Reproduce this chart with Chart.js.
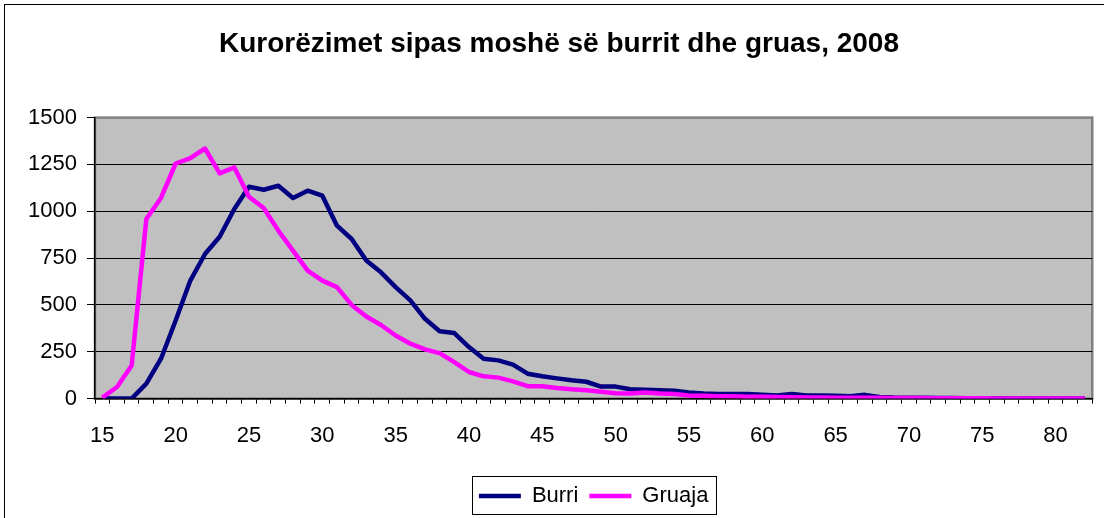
<!DOCTYPE html>
<html>
<head>
<meta charset="utf-8">
<script src="https://cdn.jsdelivr.net/npm/chart.js@4.4.1/dist/chart.umd.min.js"></script>
<style>
    html, body { margin: 0; padding: 0; background: #fff; overflow: hidden; }
    #wrap { position: relative; width: 1104px; height: 518px; overflow: hidden; }
    #frame { position: absolute; left: 4px; top: 4px; width: 1200px; height: 600px; border: 1px solid #000; pointer-events: none; }
    canvas { position: absolute; left: 0; top: 0; }
</style>
</head>
<body>
<div id="wrap">
    <canvas id="LineGraph" width="1104" height="518"></canvas>
    <div id="frame"></div>
</div>
<script>
const ctx = document.getElementById('LineGraph');

// ages 15..82
const ages = [15, 16, 17, 18, 19, 20, 21, 22, 23, 24, 25, 26, 27, 28, 29, 30, 31, 32, 33, 34,
    35, 36, 37, 38, 39, 40, 41, 42, 43, 44, 45, 46, 47, 48, 49, 50, 51, 52, 53, 54,
    55, 56, 57, 58, 59, 60, 61, 62, 63, 64, 65, 66, 67, 68, 69, 70, 71, 72, 73, 74,
    75, 76, 77, 78, 79, 80, 81, 82];

const burri = [0, 0, 0, 80, 213, 417, 630, 772, 864, 1012, 1131, 1115, 1136, 1071, 1110, 1083, 923, 852, 737, 674,
    595, 524, 426, 360, 350, 275, 213, 204, 181, 133, 119, 108, 98, 90, 64, 64, 50, 47, 44, 42,
    33, 27, 25, 24, 24, 21, 17, 25, 17, 16, 15, 12, 20, 9, 6, 5, 4, 3, 3, 2,
    2, 2, 1, 1, 1, 1, 0, 0];

const gruaja = [5, 62, 177, 959, 1071, 1255, 1284, 1335, 1202, 1234, 1078, 1017, 897, 790, 683, 630, 595, 500, 438, 393,
    337, 293, 263, 243, 195, 142, 119, 112, 92, 66, 66, 57, 50, 44, 37, 29, 27, 32, 27, 24,
    17, 15, 13, 12, 10, 10, 8, 7, 6, 6, 5, 5, 4, 4, 3, 3, 3, 2, 2, 2,
    2, 1, 1, 1, 1, 1, 1, 1];

const yTicks = [0, 250, 500, 750, 1000, 1250, 1500];

const fontFamily = '"Liberation Sans", Arial, sans-serif';

// grey plot area with its darker frame
const plotArea = {
    id: 'plotArea',
    beforeDraw(chart) {
        const a = chart.chartArea;
        const c = chart.ctx;
        c.save();
        c.fillStyle = '#C0C0C0';
        c.fillRect(a.left, a.top, a.right - a.left, a.bottom - a.top);
        c.strokeStyle = '#808080';
        c.lineWidth = 2.5;
        c.strokeRect(a.left, a.top, a.right - a.left, a.bottom - a.top);
        c.restore();
    }
};

// centre the legend under the plot, push it down and draw the box round it
const legendBox = {
    id: 'legendBox',
    afterUpdate(chart) {
        const lg = chart.legend;
        const a = chart.chartArea;
        const dx = (a.left + a.right) / 2 - (lg.left + lg.right) / 2;
        const dy = 6;
        lg.left += dx;
        lg.right += dx;
        lg.top += dy;
        lg.bottom += dy;
        lg.adjustHitBoxes();
    },
    afterDraw(chart) {
        const lg = chart.legend;
        const pad = lg.options.labels.padding;
        const rowW = lg.lineWidths[0];
        const startX = (lg.left + pad + lg.right - rowW) / 2;
        const fontSize = lg.options.labels.font.size;
        const itemTop = lg.top + pad;
        const c = chart.ctx;
        const x1 = Math.round(startX - 7) + 0.5;
        const x2 = Math.round(startX + rowW - pad + 8) + 0.5;
        const y1 = Math.round(itemTop - 9) + 0.5;
        const y2 = Math.round(itemTop + fontSize + 7) + 0.5;
        c.save();
        c.strokeStyle = '#000';
        c.lineWidth = 1;
        c.strokeRect(x1, y1, x2 - x1, y2 - y1);
        c.restore();
    }
};

const data = {
    labels: ages,
    datasets: [{
        label: 'Burri',
        data: burri,
        borderColor: '#000080',
        backgroundColor: '#000080',
        borderWidth: 4.5,
        pointRadius: 0,
        tension: 0,
        borderJoinStyle: 'round',
        order: 1
    },
    {
        label: 'Gruaja',
        data: gruaja,
        borderColor: '#FF00FF',
        backgroundColor: '#FF00FF',
        borderWidth: 4.5,
        pointRadius: 0,
        tension: 0,
        borderJoinStyle: 'round',
        order: 0
    }]
};

new Chart(ctx, {
    type: 'line',
    data: data,
    plugins: [plotArea, legendBox],
    options: {
        responsive: false,
        animation: false,
        devicePixelRatio: 1,
        layout: {
            padding: { left: 24, right: 10, top: 8, bottom: 7 }
        },
        scales: {
            x: {
                type: 'category',
                offset: true,
                grid: {
                    offset: true,
                    drawOnChartArea: false,
                    drawTicks: true,
                    tickLength: 5,
                    tickColor: '#000'
                },
                border: { color: '#000', width: 1.5 },
                ticks: {
                    autoSkip: false,
                    maxRotation: 0,
                    minRotation: 0,
                    padding: 19,
                    color: '#000',
                    font: { family: fontFamily, size: 22 },
                    callback: function (value) {
                        const age = this.getLabelForValue(value);
                        return age % 5 === 0 ? String(age) : '';
                    }
                }
            },
            y: {
                min: 0,
                max: 1500,
                afterBuildTicks: (scale) => {
                    scale.ticks = yTicks.map(v => ({ value: v }));
                },
                afterFit: (scale) => {
                    scale.width = 71;
                },
                grid: {
                    color: (c) => c.tick && c.tick.value === 1500 ? '#808080' : '#000',
                    lineWidth: 1,
                    tickLength: 8,
                    tickColor: '#000'
                },
                border: { color: '#000', width: 1.5 },
                ticks: {
                    padding: 10,
                    color: '#000',
                    font: { family: fontFamily, size: 22 },
                    callback: (value) => String(value)
                }
            }
        },
        plugins: {
            title: {
                display: true,
                text: 'Kurorëzimet sipas moshë së burrit dhe gruas, 2008',
                color: '#000',
                font: { family: fontFamily, size: 28, weight: 'bold' },
                padding: { top: 19, bottom: 57 }
            },
            legend: {
                display: true,
                position: 'bottom',
                labels: {
                    usePointStyle: true,
                    pointStyle: 'line',
                    pointStyleWidth: 42,
                    color: '#000',
                    padding: 11,
                    font: { family: fontFamily, size: 22 },
                    sort: (a, b) => a.datasetIndex - b.datasetIndex
                }
            },
            tooltip: { enabled: false }
        }
    }
});
</script>
</body>
</html>
